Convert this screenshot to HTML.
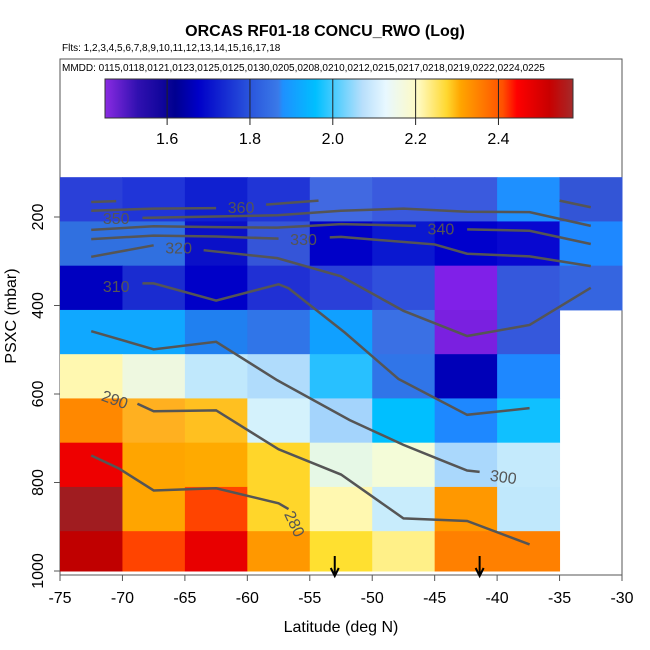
<!DOCTYPE html>
<html><head><meta charset="utf-8"><style>
body{margin:0;background:#fff}
svg{display:block;font-family:"Liberation Sans",sans-serif}
</style></head><body>
<svg id="chart" width="650" height="650" viewBox="0 0 650 650" xmlns="http://www.w3.org/2000/svg">
<text x="325" y="36" text-anchor="middle" font-size="16" font-weight="bold">ORCAS RF01-18 CONCU_RWO (Log)</text>
<text x="62" y="51" font-size="10">Flts: 1,2,3,4,5,6,7,8,9,10,11,12,13,14,15,16,17,18</text>
<rect x="60" y="59" width="562" height="516" fill="none" stroke="#555" stroke-width="1"/>
<text x="62" y="71" font-size="10">MMDD: 0115,0118,0121,0123,0125,0125,0130,0205,0208,0210,0212,0215,0217,0218,0219,0222,0224,0225</text>
<defs>
<linearGradient id="cmap" x1="0" x2="1" y1="0" y2="0">
<stop offset="0" stop-color="#8a2be2"/>
<stop offset="0.07" stop-color="#3010b0"/>
<stop offset="0.15" stop-color="#000090"/>
<stop offset="0.2" stop-color="#0000c8"/>
<stop offset="0.31" stop-color="#2a55dc"/>
<stop offset="0.37" stop-color="#3a7ae8"/>
<stop offset="0.38" stop-color="#1e90ff"/>
<stop offset="0.45" stop-color="#00bfff"/>
<stop offset="0.55" stop-color="#b8dffc"/>
<stop offset="0.6" stop-color="#e8f8ff"/>
<stop offset="0.67" stop-color="#fffac0"/>
<stop offset="0.73" stop-color="#ffd830"/>
<stop offset="0.76" stop-color="#ffa500"/>
<stop offset="0.85" stop-color="#ff5000"/>
<stop offset="0.88" stop-color="#ff0000"/>
<stop offset="0.95" stop-color="#c80000"/>
<stop offset="1" stop-color="#a52a2a"/>
</linearGradient>
</defs>
<g id="colorbar"></g>
<g id="cells"></g>
<g id="contours"></g>
<g id="axes"></g>
<text x="341" y="632" text-anchor="middle" font-size="16">Latitude (deg N)</text>
<text transform="translate(16,316) rotate(-90)" text-anchor="middle" font-size="16">PSXC (mbar)</text>
</svg>
<script>
const latEdges=[-75,-70,-65,-60,-55,-50,-45,-40,-35,-30];
const presEdges=[110,210,310,410,510,610,710,810,910,1000];
const cellColors=[
['#2a40d8','#2035d8','#1020d0','#2035d6','#4169e1','#3a5ade','#3a5ade','#1e90ff','#3355d6'],
['#3070e0','#3070e0','#0a10c8','#3555d8','#0000c8','#0a18d0','#0000cc','#0808d0','#1e88ff'],
['#0000c0','#1a2cd0','#0000c8','#2030d4','#2a40d8','#3050dc','#8020e8','#3558dc','#3565e0'],
['#10a8ff','#10a8ff','#2080f0','#3075e8','#10a0ff','#3a70e4','#7a20e0','#3558dc',null],
['#fff8b0','#eef8e0','#c0e8fc','#b0dcfc','#28c0ff','#3075e8','#0000b8','#1e88ff',null],
['#ff8800','#ffb020','#ffc020','#d4f2fc','#a4d4fc','#00bfff','#1e88ff','#10c0ff',null],
['#ee0000','#ffa500','#ffaa00','#ffd62a','#e6f8e6','#f4fcd8','#aad8fc','#c4eafc',null],
['#a01c20','#ffa500','#ff4400','#ffd62a','#fff8b0','#c8ecfc','#ff9800','#c0e8fc',null],
['#c00000','#ff4400','#e80000','#ff9800','#ffe030','#fff088','#ff8000','#ff8000',null]];
const xTicks=[-75,-70,-65,-60,-55,-50,-45,-40,-35,-30];
const yTicks=[200,400,600,800,1000];
const cbTicks=[1.6,1.8,2.0,2.2,2.4];
const cbRange=[1.45,2.58];
const arrowLats=[-53,-41.4];
const contourLines=[
{lat:[-72.5,-70.5],p:[166,164]},
{lat:[-35,-32.5],p:[163,178]},
{lat:[-72.5,-67.5,-62.5],p:[186,181,180]},
{lat:[-58.5,-56.7,-54.3],p:[172,168,163]},
{lat:[-68.4,-62.5,-57.6,-52.5,-47.5,-42.4,-37.4,-32.5],p:[202,199,196,186,181,188,189,220]},
{lat:[-72.5,-67.5,-62.5,-57.6,-52.5,-46.5],p:[229,221,223,224,216,220]},
{lat:[-42.4,-37.4,-32.5],p:[228,231,261]},
{lat:[-72.5,-67.5,-62.5,-57.5],p:[250,242,244,249]},
{lat:[-53.4,-52.5,-45,-42.4,-37.4,-32.5],p:[246,245,262,283,289,311]},
{lat:[-72.5,-67.5],p:[290,264]},
{lat:[-63.5,-57.6,-52.5,-47.5,-42.4,-37.4,-32.5],p:[275,293,334,412,469,444,360]},
{lat:[-68.4,-67.5,-62.5,-57.5,-56.7,-52.2,-47.9,-42.4,-37.4],p:[350,350,389,352,361,461,566,647,632]},
{lat:[-72.5,-67.5,-62.5,-57.6,-51.8,-47.5,-43.9,-42.4,-41.4],p:[458,499,482,569,659,715,756,773,776]},
{lat:[-68.8,-67.5,-62.5,-57.5,-52.5,-47.5,-42.4,-37.4],p:[622,639,637,725,782,881,887,940]},
{lat:[-72.5,-70.3,-67.5,-62.5,-57.5,-56.7],p:[739,768,818,813,847,860]}];
const contourLabels=[
{t:'360',lat:-60.5,p:178,r:0},{t:'350',lat:-70.5,p:203,r:0},{t:'340',lat:-44.5,p:226,r:0},
{t:'330',lat:-55.5,p:250,r:0},{t:'320',lat:-65.5,p:270,r:0},{t:'310',lat:-70.5,p:357,r:0},
{t:'300',lat:-39.5,p:787,r:8},{t:'290',lat:-70.6,p:612,r:20},{t:'280',lat:-56.2,p:893,r:65}];

const X0=60,X1=622,LAT0=-75,LAT1=-30;
const xs=v=>X0+(v-LAT0)/(LAT1-LAT0)*(X1-X0);
const ys=p=>217+(p-200)*0.4425;
const cbX0=105,cbX1=573;
const cbs=v=>cbX0+(v-cbRange[0])/(cbRange[1]-cbRange[0])*(cbX1-cbX0);
const NS='http://www.w3.org/2000/svg';
function mk(tag,attrs,parent){const e=document.createElementNS(NS,tag);for(const k in attrs)e.setAttribute(k,attrs[k]);parent.appendChild(e);return e;}

const cb=document.getElementById('colorbar');
const bar=mk('rect',{x:cbX0,y:79,width:cbX1-cbX0,height:39,fill:'url(#cmap)',stroke:'#333'},cb);


cbTicks.forEach(v=>{
  const l=mk('line',{x1:cbs(v),x2:cbs(v),y1:79,y2:125,stroke:'#222'},cb);
  
  
  const t=mk('text',{x:cbs(v),y:144,'text-anchor':'middle','font-size':16},cb);
  
  
  t.textContent=v.toFixed(1);
});

const cg=document.getElementById('cells');
cellColors.forEach((row,i)=>row.forEach((c,j)=>{
  if(!c)return;
  const r=mk('rect',{x:xs(latEdges[j]),y:ys(presEdges[i]),width:xs(latEdges[j+1])-xs(latEdges[j])+0.5,height:ys(presEdges[i+1])-ys(presEdges[i])+0.5,fill:c},cg);
  
  
}));

const ct=document.getElementById('contours');
contourLines.forEach(L=>{
  const pl=mk('polyline',{points:L.lat.map((v,k)=>xs(v)+','+ys(L.p[k])).join(' '),fill:'none',stroke:'#555','stroke-width':2.5},ct);
  
  
});
contourLabels.forEach(c=>{
  const x=xs(c.lat),y=ys(c.p);
  const t=mk('text',{x:x,y:y,dy:'0.36em','text-anchor':'middle','font-size':16,fill:'#555',transform:'rotate('+c.r+' '+x+' '+y+')'},ct);
  
  
  t.textContent=c.t;
});

const ax=document.getElementById('axes');
arrowLats.forEach(a=>{
  const x=xs(a);
  const l=mk('path',{d:'M'+x+' 556 L'+x+' 576 M'+(x-4)+' 568 L'+x+' 576 L'+(x+4)+' 568',stroke:'#000','stroke-width':2,fill:'none'},ax);
  
  
});
xTicks.forEach(v=>{
  const l=mk('line',{x1:xs(v),x2:xs(v),y1:575,y2:581,stroke:'#555'},ax);
  
  
  const t=mk('text',{x:xs(v),y:603,'text-anchor':'middle','font-size':16},ax);
  
  
  t.textContent=v;
});
yTicks.forEach(v=>{
  const l=mk('line',{x1:54,x2:60,y1:ys(v),y2:ys(v),stroke:'#555'},ax);
  
  
  const t=mk('text',{x:0,y:0,'text-anchor':'middle','font-size':16,transform:'translate(43,'+ys(v)+') rotate(-90)'},ax);
  
  
  t.textContent=v;
});
</script>
</body></html>
